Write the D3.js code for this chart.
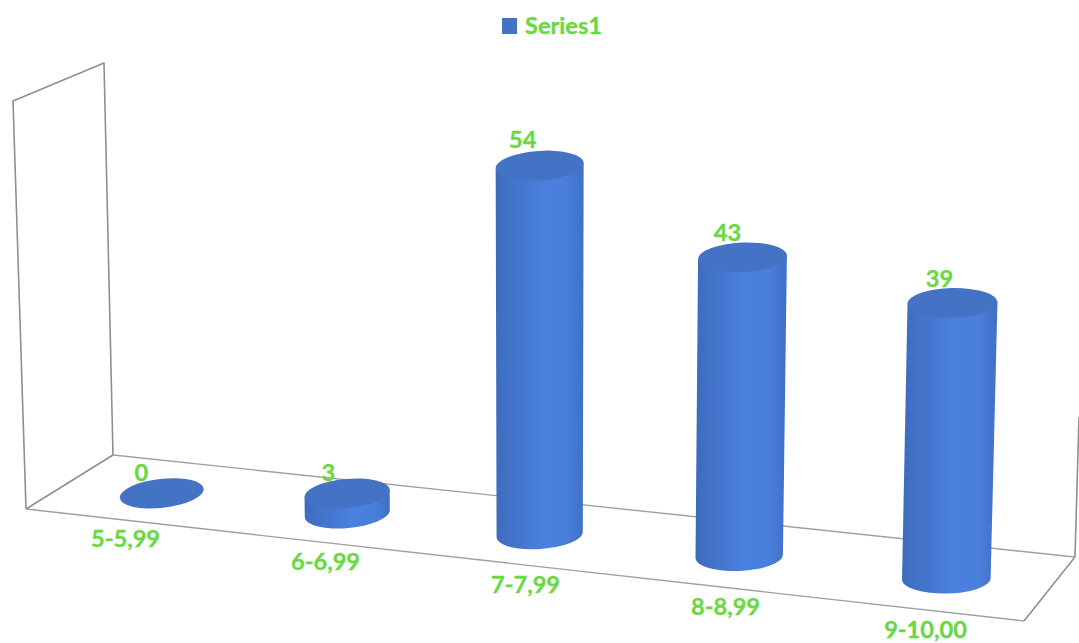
<!DOCTYPE html>
<html><head><meta charset="utf-8">
<script src="https://cdn.jsdelivr.net/npm/d3@7"></script>
<style>html,body{margin:0;padding:0;background:#fff}svg{display:block}text{font-family:Lato,"Open Sans",sans-serif;font-weight:700;fill:#6ad843;stroke:#6ad843;stroke-width:.35px;font-size:23.6px}</style>
</head><body><svg id="c" width="1079" height="643"></svg>
<script>
const categories = ["5-5,99","6-6,99","7-7,99","8-8,99","9-10,00"];
const values = [0,3,54,43,39];
const seriesName = "Series1";

const W=1079,H=643;
const svg=d3.select("#c");
const FLOOR=[[113,455],[1075,557],[1024,621],[26,509]];
const WALL_TOP=[[13,101],[104,63]];

function makeHomography(q){
  const [[x0,y0],[x1,y1],[x2,y2],[x3,y3]]=q;
  const sx=x0-x1+x2-x3, sy=y0-y1+y2-y3, dx1=x1-x2, dx2=x3-x2, dy1=y1-y2, dy2=y3-y2;
  const det=dx1*dy2-dx2*dy1;
  const g=(sx*dy2-dx2*sy)/det, k=(dx1*sy-sx*dy1)/det;
  const a=x1-x0+g*x1,b=x3-x0+k*x3,d=y1-y0+g*y1,e=y3-y0+k*y3;
  return (u,v)=>{const w=g*u+k*v+1;return [(a*u+b*v+x0)/w,(d*u+e*v+y0)/w];};
}
const floorAt=makeHomography(FLOOR);
const u=d3.scalePoint().domain(categories).range([0.004,1.004]).padding(0.5);
const hScale=d3.scaleLinear().domain([0,54]).range([0,369]);
const LEAN=5.5e-5, CX=541, NEAR=9e-5;
const tilt=d3.scaleLinear().domain([162,946]).range([-6.5,-1]);
const radius=d3.scaleLinear().domain([162,946]).range([42.2,44.3]);
const labelX=d3.scalePoint().domain(categories).range([25,1025]).padding(0.5);
const labelY=d3.scaleLinear().domain([125,925]).range([539,630]);

const defs=svg.append("defs");
const grad=defs.append("linearGradient").attr("id","side");
[[0,"#3d6cbd"],[.18,"#4373c9"],[.55,"#4a80e0"],[.8,"#4a7fdc"],[1,"#3f70c6"]].forEach(([o,c])=>grad.append("stop").attr("offset",o).attr("stop-color",c));

const line=d3.line();
const wall=svg.append("g").attr("fill","none").attr("stroke-linejoin","round");
[[FLOOR[3],WALL_TOP[0],WALL_TOP[1],FLOOR[0],FLOOR[3]],[FLOOR[1],[1079,417]],[FLOOR[2],FLOOR[1]]].forEach(p=>
  wall.append("path").attr("d",line(p)).attr("stroke","#8f8f8f").attr("stroke-width",1.6));
wall.append("path").attr("d",line([FLOOR[0],FLOOR[1]])).attr("stroke","#a0a0a0").attr("stroke-width",1.4);
wall.append("path").attr("d",line([FLOOR[3],FLOOR[2]])).attr("stroke","#a0a0a0").attr("stroke-width",1.4);

categories.forEach((cat,i)=>{
  const v=values[i];
  const [bx,by]=floorAt(u(cat),0.53);
  const h=hScale(v)*(1+(bx-CX)*NEAR);
  const scale=1+h*LEAN;
  const tx=bx+(bx-CX)*h*LEAN, ty=by-h;
  const rxB=radius(bx), ryB=14.5, rxT=rxB*scale, ryT=ryB*scale;
  const ang=tilt(bx), rad=ang*Math.PI/180, c=Math.cos(rad), s=Math.sin(rad);
  const g=svg.append("g");
  if(v>0){
    g.append("path").attr("fill","url(#side)").attr("d",
      `M${tx-rxT*c},${ty-rxT*s}L${bx-rxB*c},${by-rxB*s}`+
      `A${rxB},${ryB} ${ang} 0 0 ${bx+rxB*c},${by+rxB*s}L${tx+rxT*c},${ty+rxT*s}Z`);
  }
  g.append("ellipse").attr("rx",rxT).attr("ry",ryT)
    .attr("transform",`translate(${tx},${ty}) rotate(${ang})`)
    .attr("fill","#4473c6");
  svg.append("text").attr("x",tx-22+bx*0.0095).attr("y",ty-12-v*0.1).attr("text-anchor","middle").text(v);
});

categories.forEach(cat=>{
  const x=labelX(cat);
  svg.append("text").attr("x",x+0.5).attr("y",labelY(x)+8).attr("text-anchor","middle").text(cat);
});

svg.append("rect").attr("x",502).attr("y",18).attr("width",15).attr("height",16).attr("fill","#4472c4");
svg.append("text").attr("x",525).attr("y",34).text(seriesName);
</script></body></html>
